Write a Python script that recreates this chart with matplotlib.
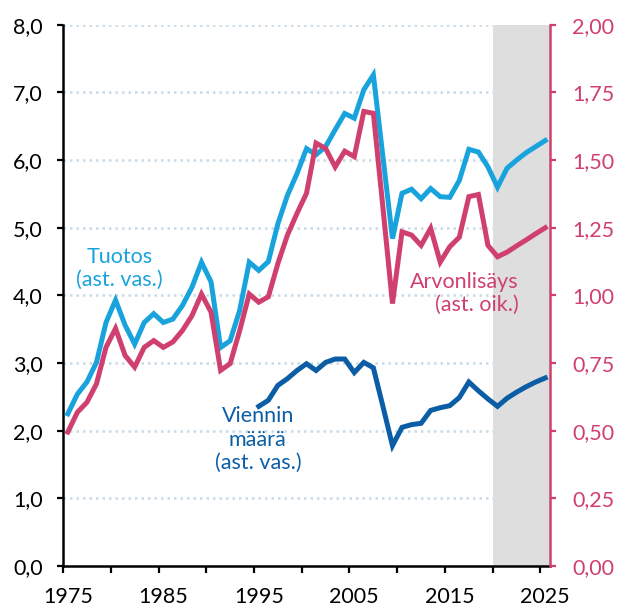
import numpy as np
import matplotlib
matplotlib.use("Agg")
import matplotlib.pyplot as plt
from matplotlib.ticker import FuncFormatter

plt.rcParams['font.family'] = ['Lato', 'DejaVu Sans']

# Data
years = list(range(1975, 2026))
tuotos = [2.25, 2.54, 2.72, 3.01, 3.60, 3.93, 3.56, 3.28, 3.60, 3.73,
          3.60, 3.65, 3.85, 4.12, 4.49, 4.20, 3.23, 3.33, 3.78, 4.49,
          4.37, 4.50, 5.06, 5.48, 5.80, 6.17, 6.08, 6.20, 6.45, 6.69,
          6.62, 7.04, 7.26, 6.05, 4.84, 5.51, 5.57, 5.43, 5.58, 5.46,
          5.45, 5.70, 6.16, 6.12, 5.90, 5.60, 5.88, 6.00, 6.11, 6.20,
          6.29]
# right axis values
arvonlisays = [0.495, 0.568, 0.605, 0.673, 0.808, 0.878, 0.778, 0.735, 0.808, 0.833,
               0.808, 0.828, 0.870, 0.925, 1.005, 0.938, 0.723, 0.748, 0.870, 1.005,
               0.975, 0.995, 1.118, 1.223, 1.303, 1.378, 1.563, 1.543, 1.475, 1.533,
               1.513, 1.680, 1.673, 1.325, 0.970, 1.235, 1.223, 1.185, 1.248, 1.123,
               1.180, 1.215, 1.365, 1.373, 1.185, 1.143, 1.160, 1.183, 1.205, 1.228,
               1.250]
vienti_years = list(range(1995, 2026))
vienti = [2.36, 2.45, 2.67, 2.77, 2.89, 2.99, 2.89, 3.01, 3.06, 3.06,
          2.86, 3.01, 2.93, 2.36, 1.78, 2.05, 2.09, 2.11, 2.30, 2.34,
          2.37, 2.49, 2.72, 2.59, 2.47, 2.36, 2.48, 2.57, 2.65, 2.72,
          2.78]
label_years = [1975, 1985, 1995, 2005, 2015, 2025]

c_tuotos = '#19a3dd'
c_arvo = '#d0406f'
c_vienti = '#0b5ea5'

fig = plt.figure(figsize=(6.18, 6.06), dpi=100)
ax = fig.add_axes([0.102, 0.066, 0.788, 0.893])
ax2 = ax.twinx()

ax.set_xlim(1974.5, 2025.5)
ax.set_ylim(0, 8)
ax2.set_ylim(0, 2)

ax.axvspan(2019.5, 2025.5, color='#dedede', zorder=1, lw=0)
for v in np.arange(1, 9):
    ax.axhline(v, color='#c9dbe6', lw=1.8, ls=(0, (1, 1.6)), zorder=0.5)

ax.plot(years, tuotos, color=c_tuotos, lw=3.6, zorder=3, solid_joinstyle='miter')
ax.plot(vienti_years, vienti, color=c_vienti, lw=3.6, zorder=3, solid_joinstyle='miter')
ax2.plot(years, arvonlisays, color=c_arvo, lw=3.6, zorder=3, solid_joinstyle='miter')

fs = 15.5
ax.text(1980.4, 4.40, 'Tuotos\n(ast. vas.)', color=c_tuotos, fontsize=fs,
        ha='center', va='center', zorder=4)
ax.text(1994.9, 1.87, 'Viennin\nmäärä\n(ast. vas.)', color=c_vienti, fontsize=fs,
        ha='center', va='center', zorder=4)
ax.text(2022.2, 4.03, 'Arvonlisäys\n(ast. oik.)', color=c_arvo, fontsize=fs,
        ha='right', va='center', multialignment='right', zorder=4)

# axes styling
ax.set_yticks(np.arange(0, 9))
ax.yaxis.set_major_formatter(FuncFormatter(lambda v, p: f'{v:.1f}'.replace('.', ',')))
ax2.set_yticks(np.arange(0, 2.01, 0.25))
ax2.yaxis.set_major_formatter(FuncFormatter(lambda v, p: f'{v:.2f}'.replace('.', ',')))

ax.set_xticks(label_years)
ax.set_xticks(np.arange(1974.5, 2025, 5), minor=True)
ax.tick_params(axis='x', which='major', length=0, labelsize=fs, pad=15)
ax.tick_params(axis='x', which='minor', length=5, width=1.6, color='black')
ax.tick_params(axis='y', length=4.5, width=1.6, labelsize=fs, colors='black', pad=10)
ax2.tick_params(axis='y', length=4.5, width=1.6, labelsize=fs, colors=c_arvo, pad=11.5)

for a in (ax, ax2):
    a.spines['top'].set_visible(False)
ax.spines['right'].set_visible(False)
ax2.spines['left'].set_visible(False)
ax2.spines['bottom'].set_visible(False)
ax.spines['left'].set_linewidth(1.8)
ax.spines['bottom'].set_linewidth(1.8)
ax2.spines['right'].set_linewidth(1.8)
ax2.spines['right'].set_color(c_arvo)

fig.savefig('out.png', dpi=100)
